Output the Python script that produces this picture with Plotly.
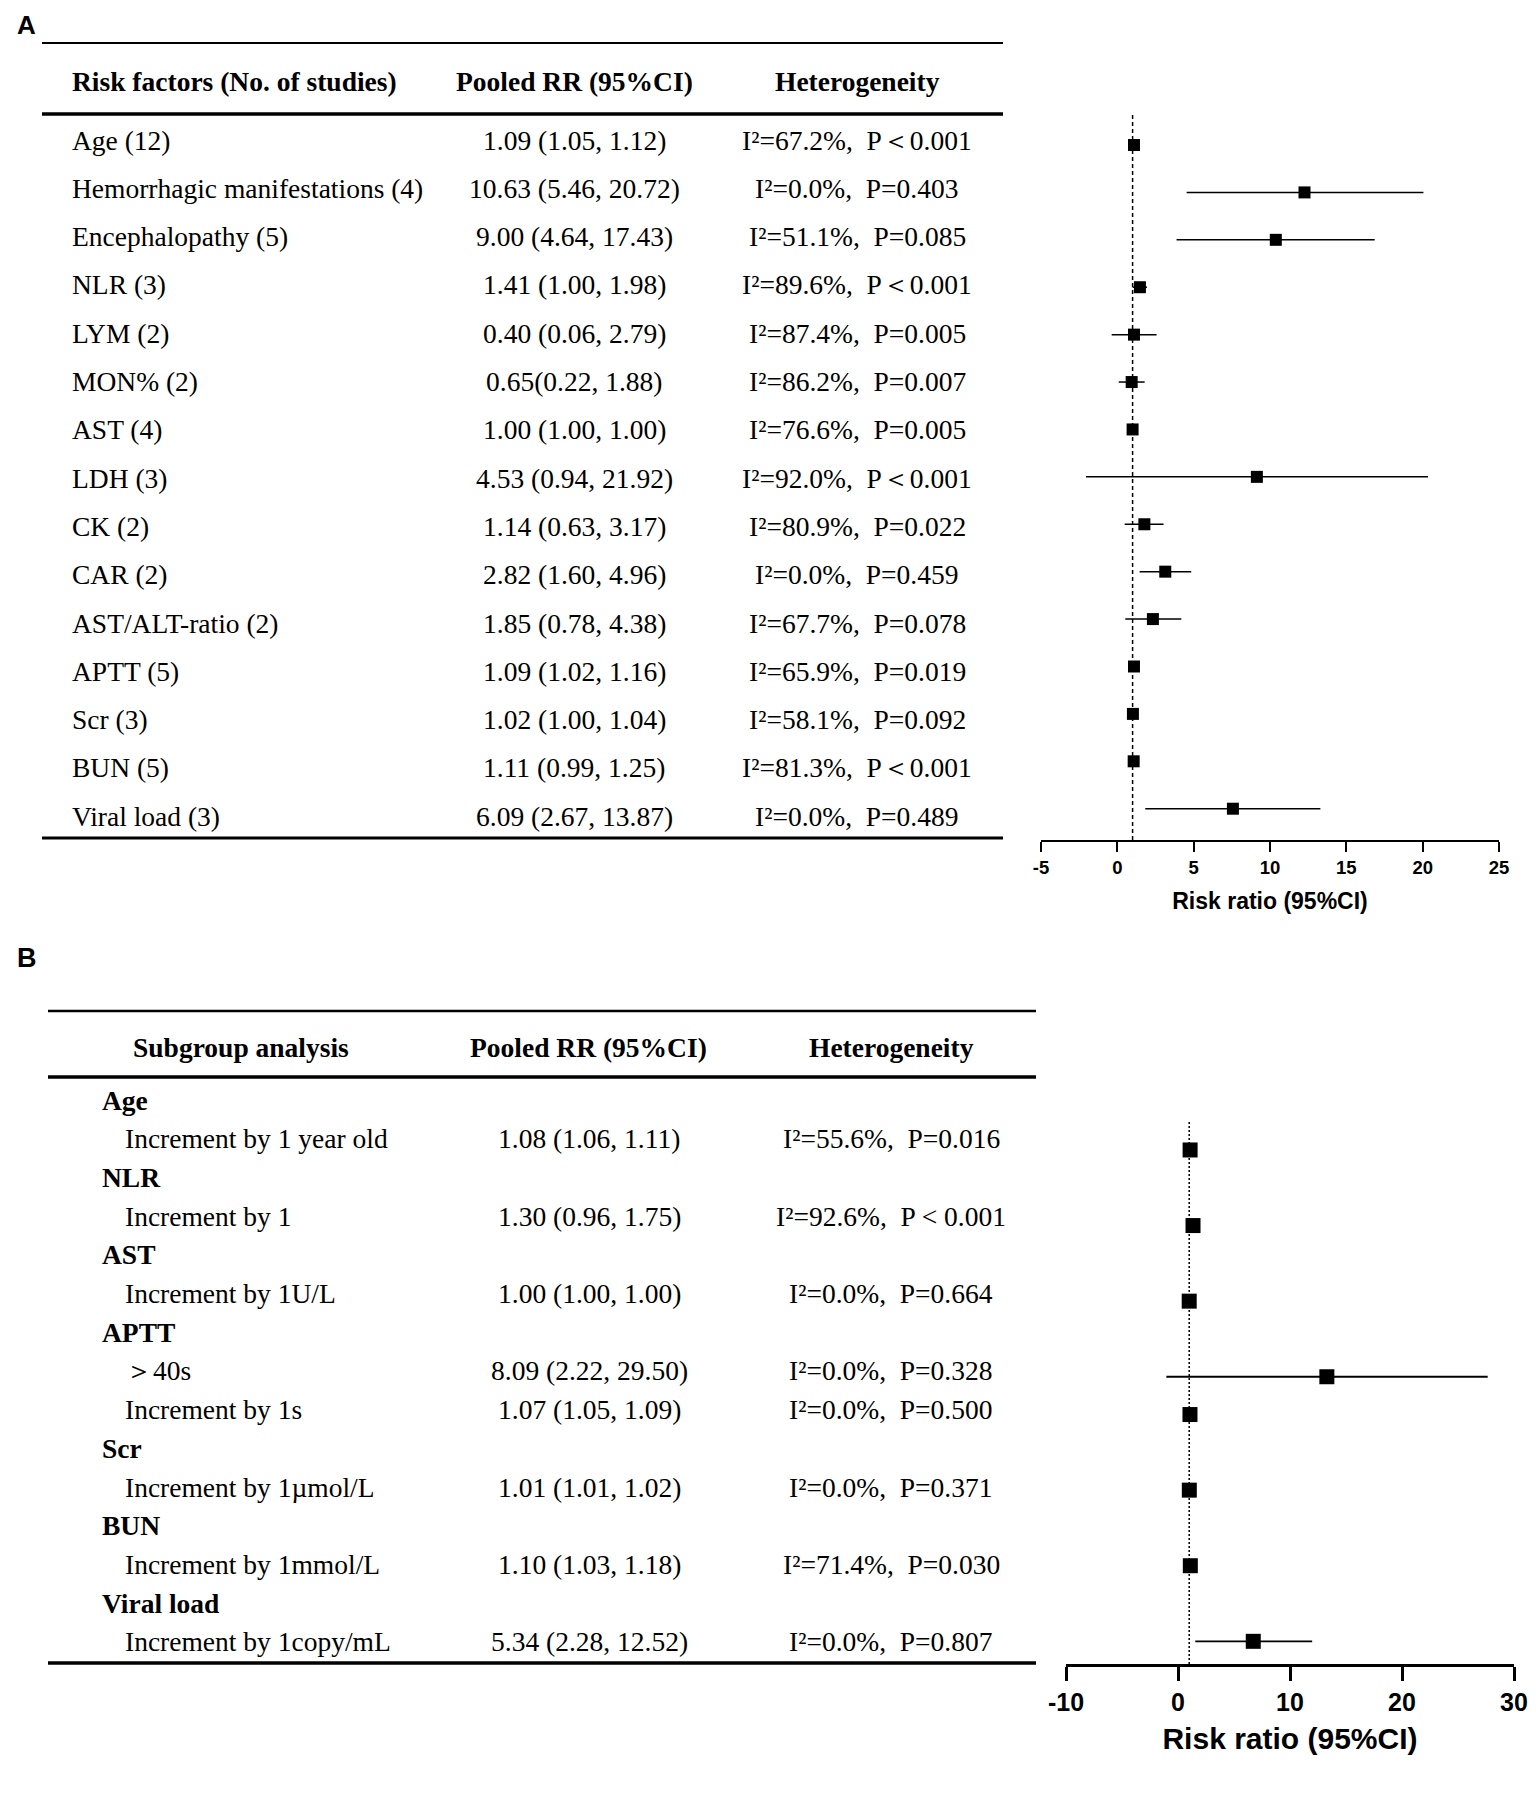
import plotly.graph_objects as go

W, H = 1536, 1793
OX, OY = 8, 8  # page body margin

# ---- panel A: table text ----
factors_a = ["Age (12)", "Hemorrhagic manifestations (4)", "Encephalopathy (5)", "NLR (3)",
             "LYM (2)", "MON% (2)", "AST (4)", "LDH (3)", "CK (2)", "CAR (2)",
             "AST/ALT-ratio (2)", "APTT (5)", "Scr (3)", "BUN (5)", "Viral load (3)"]
rr_text_a = ["1.09 (1.05, 1.12)", "10.63 (5.46, 20.72)", "9.00 (4.64, 17.43)", "1.41 (1.00, 1.98)",
             "0.40 (0.06, 2.79)", "0.65(0.22, 1.88)", "1.00 (1.00, 1.00)", "4.53 (0.94, 21.92)",
             "1.14 (0.63, 3.17)", "2.82 (1.60, 4.96)", "1.85 (0.78, 4.38)", "1.09 (1.02, 1.16)",
             "1.02 (1.00, 1.04)", "1.11 (0.99, 1.25)", "6.09 (2.67, 13.87)"]
het_a = ["I²=67.2%,  P＜0.001", "I²=0.0%,  P=0.403", "I²=51.1%,  P=0.085", "I²=89.6%,  P＜0.001",
         "I²=87.4%,  P=0.005", "I²=86.2%,  P=0.007", "I²=76.6%,  P=0.005", "I²=92.0%,  P＜0.001",
         "I²=80.9%,  P=0.022", "I²=0.0%,  P=0.459", "I²=67.7%,  P=0.078", "I²=65.9%,  P=0.019",
         "I²=58.1%,  P=0.092", "I²=81.3%,  P＜0.001", "I²=0.0%,  P=0.489"]
headers_a = ["Risk factors (No. of studies)", "Pooled RR (95%CI)", "Heterogeneity"]

# panel A: estimates as drawn in the forest plot
est_a = [1.09, 12.26, 10.38, 1.48, 1.09, 0.94, 1.00, 9.14, 1.77, 3.14, 2.33, 1.09, 1.02, 1.07, 7.57]
lo_a = [1.05, 4.54, 3.88, 1.00, -0.37, 0.09, 1.00, -2.05, 0.48, 1.46, 0.52, 1.02, 1.00, 0.99, 1.83]
hi_a = [1.12, 20.05, 16.86, 1.94, 2.57, 1.79, 1.00, 20.35, 3.03, 4.84, 4.19, 1.16, 1.04, 1.25, 13.30]
rows_a = list(range(len(factors_a)))

# ---- panel B: table text ----
headers_b = ["Subgroup analysis", "Pooled RR (95%CI)", "Heterogeneity"]
group_names_b = ["Age", "NLR", "AST", "APTT", "Scr", "BUN", "Viral load"]
group_rows_b = [0, 2, 4, 6, 9, 11, 13]
sub_labels_b = ["Increment by 1 year old", "Increment by 1", "Increment by 1U/L", "＞40s",
                "Increment by 1s", "Increment by 1µmol/L", "Increment by 1mmol/L", "Increment by 1copy/mL"]
sub_rr_b = ["1.08 (1.06, 1.11)", "1.30 (0.96, 1.75)", "1.00 (1.00, 1.00)", "8.09 (2.22, 29.50)",
            "1.07 (1.05, 1.09)", "1.01 (1.01, 1.02)", "1.10 (1.03, 1.18)", "5.34 (2.28, 12.52)"]
sub_het_b = ["I²=55.6%,  P=0.016", "I²=92.6%,  P < 0.001", "I²=0.0%,  P=0.664", "I²=0.0%,  P=0.328",
             "I²=0.0%,  P=0.500", "I²=0.0%,  P=0.371", "I²=71.4%,  P=0.030", "I²=0.0%,  P=0.807"]
sub_rows_b = [1, 3, 5, 7, 8, 10, 12, 14]

est_b = [1.08, 1.34, 1.00, 13.29, 1.07, 1.01, 1.10, 6.72]
lo_b = [1.06, 0.96, 1.00, -1.04, 1.05, 1.01, 1.03, 1.54]
hi_b = [1.11, 1.75, 1.00, 27.65, 1.09, 1.02, 1.18, 11.98]

NULL_RR = 1
ticks_a = [-5, 0, 5, 10, 15, 20, 25]
tick_text_a = ["-5", "0", "5", "10", "15", "20", "25"]
ticks_b = [-10, 0, 10, 20, 30]
tick_text_b = ["-10", "0", "10", "20", "30"]

SERIF = "Liberation Serif, Times New Roman, serif"
SANS = "Liberation Sans, Arial, sans-serif"


def px(x):
    return (x - OX) / W


def py(y):
    return 1 - (y - OY) / H


fig = go.Figure()

# forest plot A
fig.add_trace(go.Scatter(
    x=est_a, y=rows_a, mode="markers", xaxis="x", yaxis="y",
    marker=dict(symbol="square", size=12, color="black"),
    error_x=dict(type="data", symmetric=False,
                 array=[h - e for h, e in zip(hi_a, est_a)],
                 arrayminus=[e - l for e, l in zip(est_a, lo_a)],
                 thickness=1.5, width=0, color="black"),
    showlegend=False, hoverinfo="skip"))

# forest plot B
fig.add_trace(go.Scatter(
    x=est_b, y=sub_rows_b, mode="markers", xaxis="x2", yaxis="y2",
    marker=dict(symbol="square", size=15, color="black"),
    error_x=dict(type="data", symmetric=False,
                 array=[h - e for h, e in zip(hi_b, est_b)],
                 arrayminus=[e - l for e, l in zip(est_b, lo_b)],
                 thickness=1.8, width=0, color="black"),
    showlegend=False, hoverinfo="skip"))

# reference lines at RR = 1
fig.add_shape(type="line", xref="x", yref="y domain", x0=NULL_RR, x1=NULL_RR, y0=0, y1=1,
              line=dict(color="black", width=1.5, dash="4px,3px"), layer="below")
fig.add_shape(type="line", xref="x2", yref="y2 domain", x0=NULL_RR, x1=NULL_RR, y0=0, y1=1,
              line=dict(color="black", width=1.5, dash="2px,2px"), layer="below")

ann = []


def text(x, y, s, size=27.5, bold=False, xanchor="center", yanchor="middle", family=SERIF):
    ann.append(dict(x=px(x), y=py(y), xref="paper", yref="paper", text=s, showarrow=False,
                    xanchor=xanchor, yanchor=yanchor,
                    font=dict(family=family, size=size, color="black",
                              weight="bold" if bold else "normal")))


def hline(x0, x1, y, w):
    fig.add_shape(type="line", xref="paper", yref="paper", x0=px(x0), x1=px(x1),
                  y0=py(y), y1=py(y), line=dict(color="black", width=w))


# panel labels
text(15, OY, "A", size=26, bold=True, xanchor="left", yanchor="top", family=SANS)
text(15, 958, "B", size=27, bold=True, xanchor="left", family=SANS)

# table A
hline(42, 1003, 43, 2)
hline(42, 1003, 114, 3.5)
hline(42, 1003, 838, 3)
text(70, 82, headers_a[0], bold=True, xanchor="left")
text(574, 82, headers_a[1], bold=True)
text(857, 82, headers_a[2], bold=True)
for i in rows_a:
    yy = 140 + 48.3 * i
    text(70, yy, factors_a[i], xanchor="left")
    text(574, yy, rr_text_a[i])
    text(857, yy, het_a[i])

# table B
hline(48, 1036, 1011, 2.7)
hline(48, 1036, 1077, 3.5)
hline(48, 1036, 1663, 3.5)
text(241, 1047, headers_b[0], bold=True)
text(588, 1047, headers_b[1], bold=True)
text(891, 1047, headers_b[2], bold=True)
for name, r in zip(group_names_b, group_rows_b):
    text(100, 1100 + 38.7 * r, name, bold=True, xanchor="left")
for lab, rr, het, r in zip(sub_labels_b, sub_rr_b, sub_het_b, sub_rows_b):
    yy = 1100 + 38.7 * r
    text(123, yy, lab, xanchor="left")
    text(589, yy, rr)
    text(891, yy, het)

fig.update_layout(
    width=W, height=H, margin=dict(l=0, r=0, t=0, b=0, autoexpand=False),
    paper_bgcolor="white", plot_bgcolor="white",
    annotations=ann,
    xaxis=dict(domain=[px(1041), px(1499)], range=[-5, 25], tickvals=ticks_a, ticktext=tick_text_a,
               showline=True, linecolor="black", linewidth=2, ticks="outside", ticklen=10,
               tickwidth=2, tickcolor="black", showgrid=False, zeroline=False, automargin=False,
               tickfont=dict(family=SANS, size=18.5, color="black", weight="bold"),
               title=dict(text="Risk ratio (95%CI)", standoff=16,
                          font=dict(family=SANS, size=23, color="black", weight="bold")),
               anchor="y"),
    yaxis=dict(domain=[py(840), py(113)], range=[14.66, -0.675], visible=False,
               showgrid=False, zeroline=False, automargin=False, anchor="x"),
    xaxis2=dict(domain=[px(1066), px(1514)], range=[-10, 30], tickvals=ticks_b, ticktext=tick_text_b,
                showline=True, linecolor="black", linewidth=2.5, ticks="outside", ticklen=14,
                tickwidth=2.5, tickcolor="black", showgrid=False, zeroline=False, automargin=False,
                tickfont=dict(family=SANS, size=25, color="black", weight="bold"),
                title=dict(text="Risk ratio (95%CI)", standoff=14,
                           font=dict(family=SANS, size=30, color="black", weight="bold")),
                anchor="y2"),
    yaxis2=dict(domain=[py(1664), py(1122)], range=[14.6, 0.26], visible=False,
                showgrid=False, zeroline=False, automargin=False, anchor="x2"),
)

fig.write_html("out.html")
